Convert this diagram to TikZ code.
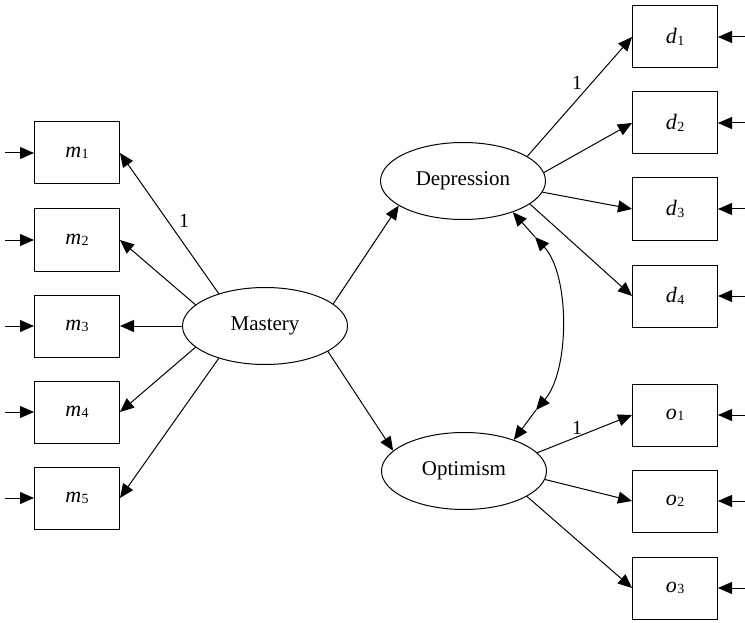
\documentclass[tikz,border=0pt]{standalone}
\usepackage{fontspec}
\setmainfont{Liberation Serif}
\usetikzlibrary{shapes.geometric,arrows.meta}
\newcommand\vlab[2]{{\fontsize{22}{24}\selectfont\itshape #1}\kern0.5pt\raisebox{-0.35ex}{\fontsize{14}{14}\selectfont #2}}
\begin{document}
\begin{tikzpicture}[x=1pt,y=-1pt,
  lat/.style={draw,ellipse,line width=1pt,minimum width=165pt,minimum height=77pt,inner sep=0pt,font=\fontsize{21}{24}\selectfont},
  obs/.style={draw,rectangle,line width=1pt,minimum width=85pt,minimum height=62pt,inner sep=0pt},
  conn/.style={line width=1pt,-{Triangle[length=14pt,width=12pt]}},
  dbl/.style={line width=1pt,{Triangle[length=14pt,width=12pt]}-{Triangle[length=14pt,width=12pt]}},
  lbl/.style={font=\fontsize{20}{22}\selectfont,inner sep=0pt}]
\useasboundingbox (0,0) rectangle (745,623);
% latent variables
\node[lat] (mas) at (265,326) {Mastery};
\node[lat] (dep) at (463,181) {Depression};
\node[lat] (opt) at (464,471) {Optimism};
% observed
\node[obs] (m1) at (77,153) {\vlab{m}{1}};
\node[obs] (m2) at (77,240) {\vlab{m}{2}};
\node[obs] (m3) at (77,326) {\vlab{m}{3}};
\node[obs] (m4) at (77,412) {\vlab{m}{4}};
\node[obs] (m5) at (77,498) {\vlab{m}{5}};
\node[obs] (d1) at (675,37) {\vlab{d}{1}};
\node[obs] (d2) at (675,123) {\vlab{d}{2}};
\node[obs] (d3) at (675,209) {\vlab{d}{3}};
\node[obs] (d4) at (675,296) {\vlab{d}{4}};
\node[obs] (o1) at (675,415) {\vlab{o}{1}};
\node[obs] (o2) at (675,501) {\vlab{o}{2}};
\node[obs] (o3) at (675,588) {\vlab{o}{3}};
% error terms
\foreach \n in {m1,m2,m3,m4,m5}{
  \coordinate (e\n) at ([xshift=-29pt]\n.west);
  \draw[conn] (e\n) -- (\n.west);}
\foreach \n in {d1,d2,d3,d4,o1,o2,o3}{
  \coordinate (e\n) at ([xshift=30pt]\n.east);
  \draw[conn] (e\n) -- (\n.east);}
% loadings
\draw[conn] (mas.145) -- (m1.east);
\draw[conn] (mas.163) -- (m2.east);
\draw[conn] (mas.180) -- (m3.east);
\draw[conn] (mas.197) -- (m4.east);
\draw[conn] (mas.215) -- (m5.east);
\draw[conn] (mas.18) -- (dep.201);
\draw[conn] (mas.-22) -- (opt.164);
\draw[conn] (dep.21) -- (d1.west);
\draw[conn] (dep.6) -- (d2.west);
\draw[conn] (dep.-8) -- (d3.west);
\draw[conn] (dep.-19) -- (d4.west);
\draw[conn] (opt.14) -- (o1.west);
\draw[conn] (opt.-6) -- (o2.west);
\draw[conn] (opt.-22) -- (o3.west);
% labels
\node[lbl] (l1) at (184,221) {1};
\node[lbl] (l2) at (577,83) {1};
\node[lbl] (l3) at (577,428) {1};
% covariance
\coordinate (ct) at (535,237);
\coordinate (cb) at (536,410);
\draw[dbl] (ct) .. controls (570,275) and (570,370) .. (cb);
\draw[conn] (ct) -- (dep.-32);
\draw[conn] (cb) -- (opt.32);
\end{tikzpicture}
\end{document}
